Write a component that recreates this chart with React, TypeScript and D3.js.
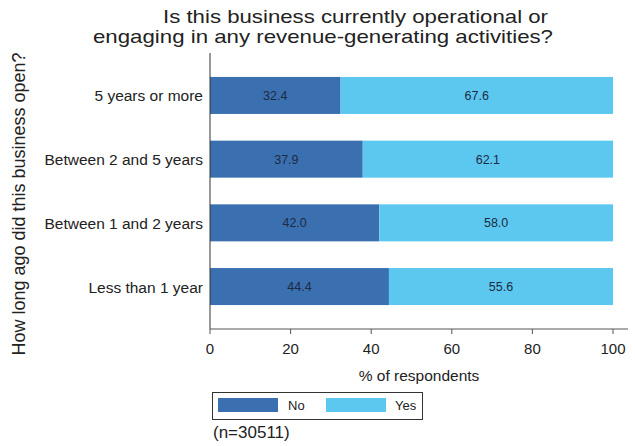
import React from "react";
import * as d3 from "d3";

const categories = ["5 years or more", "Between 2 and 5 years", "Between 1 and 2 years", "Less than 1 year"];
const noValues = [32.4, 37.9, 42.0, 44.4];
const yesValues = [67.6, 62.1, 58.0, 55.6];
const xTicks = [0, 20, 40, 60, 80, 100];
const seriesNames = ["No", "Yes"];
const colors = ["#3b70b0", "#5cc8ef"];

const W = 635, H = 446;
const left = 210, right = 613, axisEnd = 628, top = 53, bottom = 329;

export default function App() {
  const x = d3.scaleLinear().domain([0, 100]).range([left, right]);
  const y = d3.scaleBand<string>().domain(categories).range([top, bottom]).paddingInner(0.419).paddingOuter(0.376);
  const font = "Arial, 'Liberation Sans', sans-serif";
  return (
    <svg width={W} height={H} style={{ position: "absolute", left: 0, top: 0, background: "#fff" }} fontFamily={font}>
      <text x={163} y={23} fontSize={19} fill="#222" textLength={385} lengthAdjust="spacingAndGlyphs">Is this business currently operational or</text>
      <text x={93} y={43} fontSize={19} fill="#222" textLength={460} lengthAdjust="spacingAndGlyphs">engaging in any revenue-generating activities?</text>
      {categories.map((c, i) => {
        const y0 = y(c)!;
        const bw = y.bandwidth();
        const segs = [
          { x0: 0, x1: noValues[i], v: noValues[i], col: colors[0] },
          { x0: noValues[i], x1: noValues[i] + yesValues[i], v: yesValues[i], col: colors[1] },
        ];
        return (
          <g key={c}>
            {segs.map((s, j) => (
              <g key={j}>
                <rect x={x(s.x0)} y={y0} width={x(s.x1) - x(s.x0)} height={bw} fill={s.col} />
                <text x={(x(s.x0) + x(s.x1)) / 2} y={y0 + bw / 2 + 4.5} fontSize={12.5} textAnchor="middle" fill="#1c2b45">
                  {s.v.toFixed(1)}
                </text>
              </g>
            ))}
            <text x={203} y={y0 + bw / 2 + 6} fontSize={15.5} textAnchor="end" fill="#222">{c}</text>
          </g>
        );
      })}
      <line x1={left} x2={left} y1={top} y2={bottom} stroke="#333" strokeWidth={1} />
      <line x1={left} x2={axisEnd} y1={bottom} y2={bottom} stroke="#555" strokeWidth={1} />
      {xTicks.map((t) => (
        <g key={t}>
          <line x1={x(t)} x2={x(t)} y1={bottom} y2={bottom + 5} stroke="#555" />
          <text x={x(t)} y={354} fontSize={15} textAnchor="middle" fill="#222">{t}</text>
        </g>
      ))}
      <text x={419} y={381} fontSize={15.5} textAnchor="middle" fill="#222">% of respondents</text>
      <text transform={`translate(25,204) rotate(-90)`} fontSize={18} textAnchor="middle" fill="#222">How long ago did this business open?</text>
      <rect x={212.5} y={392.5} width={210} height={27} fill="none" stroke="#333" />
      {seriesNames.map((n, i) => (
        <g key={n}>
          <rect x={218 + i * 108} y={398} width={60} height={14} fill={colors[i]} />
          <text x={288 + i * 107} y={410} fontSize={13} fill="#222">{n}</text>
        </g>
      ))}
      <text x={213} y={438} fontSize={17} fill="#222">(n=30511)</text>
    </svg>
  );
}
